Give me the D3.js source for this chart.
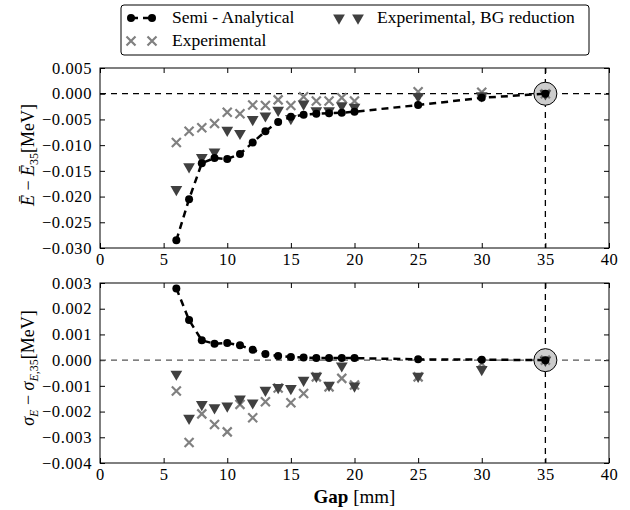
<!DOCTYPE html>
<html><head><meta charset="utf-8">
<script src="https://cdn.jsdelivr.net/npm/d3@7"></script>
<style>body{margin:0;background:#fff}svg{display:block}svg text{font-family:"Liberation Serif",serif}</style>
</head><body><div id="c"></div>
<script>
const gaps = [6,7,8,9,10,11,12,13,14,15,16,17,18,19,20,25,30,35];
// Top panel: mean energy difference [MeV]
const semiE = [-0.0285,-0.0205,-0.0135,-0.0125,-0.0127,-0.0117,-0.0095,-0.0073,-0.0055,-0.0045,-0.0041,-0.0039,-0.0038,-0.0037,-0.0035,-0.0022,-0.0008,0];
const bgE   = [-0.0186,-0.0142,-0.0124,-0.0113,-0.0071,-0.0077,-0.0050,-0.0043,-0.0032,-0.0048,-0.0020,-0.0033,-0.0033,-0.0023,-0.0026,-0.0005,-0.0004,0];
const expE  = [-0.0095,-0.0073,-0.0066,-0.0058,-0.0036,-0.0039,-0.0022,-0.0023,-0.0012,-0.0023,-0.0006,-0.0014,-0.0014,-0.0008,-0.0014,0.0004,0.0003,0];
// Bottom panel: sigma difference [MeV]
const semiS = [0.00279,0.00156,0.00077,0.00064,0.00067,0.00058,0.00040,0.00024,0.00016,0.00012,0.00010,0.00008,0.00008,0.00008,0.00008,0.00003,0.00002,0];
const bgS   = [-0.00054,-0.00226,-0.00172,-0.00185,-0.00178,-0.00151,-0.00166,-0.00117,-0.00106,-0.00110,-0.00078,-0.00062,-0.00097,-0.00022,-0.00100,-0.00062,-0.00036,0];
const expS  = [-0.00120,-0.00320,-0.00209,-0.00250,-0.00279,-0.00172,-0.00224,-0.00162,-0.00108,-0.00166,-0.00130,-0.00065,-0.00104,-0.00071,-0.00097,-0.00065,-0.00013,0];
const xTicks = [0,5,10,15,20,25,30,35,40];
const yTicksTop = [0.005,0.000,-0.005,-0.010,-0.015,-0.020,-0.025,-0.030];
const yTicksBot = [0.003,0.002,0.001,0.000,-0.001,-0.002,-0.003,-0.004];
const refGap = 35;
const legendLabels = ["Semi - Analytical","Experimental, BG reduction","Experimental"];

const W=630,H=510;
const svg=d3.select("#c").append("svg").attr("width",W).attr("height",H);
const L=100,R=609;
const x=d3.scaleLinear().domain([0,40]).range([L,R]);
const fmt=v=>{const s=Math.abs(v).toFixed(3);return (v<-1e-12?"\u2212":"")+s;};

const tri=d3.symbol().type(d3.symbolTriangle).size(60);
function crossPath(s){return `M${-s},${-s}L${s},${s}M${-s},${s}L${s},${-s}`;}

function panel(top,bottom,yTicks,semi,bg,ex,zeroColor,labelY,labelParts){
  const y=d3.scaleLinear().domain([yTicks[yTicks.length-1],yTicks[0]]).range([bottom,top]);
  const g=svg.append("g");
  const clip="clip"+top;
  g.append("clipPath").attr("id",clip).append("rect").attr("x",L).attr("y",top).attr("width",R-L).attr("height",bottom-top);
  const ax=g.append("g");
  ax.append("g").attr("transform",`translate(0,${bottom})`).call(d3.axisBottom(x).tickValues(xTicks).tickSizeInner(-5).tickSizeOuter(0).tickPadding(5).tickFormat(d3.format("d")));
  ax.append("g").attr("transform",`translate(0,${top})`).call(d3.axisTop(x).tickValues(xTicks).tickSizeInner(-5).tickSizeOuter(0).tickFormat(""));
  ax.append("g").attr("transform",`translate(${L},0)`).call(d3.axisLeft(y).tickValues(yTicks).tickSizeInner(-5).tickSizeOuter(0).tickPadding(8).tickFormat(fmt));
  ax.append("g").attr("transform",`translate(${R},0)`).call(d3.axisRight(y).tickValues(yTicks).tickSizeInner(-5).tickSizeOuter(0).tickFormat(""));
  ax.selectAll(".domain").remove();
  ax.selectAll("g").attr("font-family",null).attr("font-size",16.5);
  ax.selectAll("text").attr("fill","#000").attr("letter-spacing",0.6);
  ax.selectAll("line").attr("stroke","#000");
  const pg=g.append("g").attr("clip-path",`url(#${clip})`);
  pg.append("line").attr("x1",L).attr("x2",R).attr("y1",y(0)).attr("y2",y(0)).attr("stroke",zeroColor).attr("stroke-width",1.3).attr("stroke-dasharray","6,5");
  pg.append("line").attr("x1",x(refGap)).attr("x2",x(refGap)).attr("y1",top).attr("y2",bottom).attr("stroke","#000").attr("stroke-width",1.3).attr("stroke-dasharray","6,5");
  pg.append("circle").attr("cx",x(refGap)).attr("cy",y(0)).attr("r",11.5).attr("fill","#cccccc").attr("stroke","#000").attr("stroke-width",1);
  pg.selectAll(".ex").data(gaps.map((g,i)=>[g,ex[i]])).join("path").attr("transform",d=>`translate(${x(d[0])},${y(d[1])})`).attr("d",crossPath(4.5)).attr("stroke","#808080").attr("stroke-width",2.2).attr("fill","none");
  pg.selectAll(".bg").data(gaps.map((g,i)=>[g,bg[i]])).join("path").attr("transform",d=>`translate(${x(d[0])},${y(d[1])}) rotate(180)`).attr("d",tri).attr("fill","#404040");
  const pts=gaps.map((g,i)=>[g,semi[i]]);
  pg.append("path").datum(pts).attr("d",d3.line().x(d=>x(d[0])).y(d=>y(d[1]))).attr("fill","none").attr("stroke","#000").attr("stroke-width",2.5).attr("stroke-dasharray","7,5");
  pg.selectAll(".sa").data(pts).join("circle").attr("cx",d=>x(d[0])).attr("cy",d=>y(d[1])).attr("r",4).attr("fill","#000");
  g.append("rect").attr("x",L).attr("y",top).attr("width",R-L).attr("height",bottom-top).attr("fill","none").attr("stroke","#000").attr("stroke-width",1);
  const t=g.append("text").attr("transform",`translate(34,${labelY}) rotate(-90)`).attr("text-anchor","middle").attr("font-size",18);
  labelParts(t);
}

panel(68,248,yTicksTop,semiE,bgE,expE,"#000",155,t=>{
  t.append("tspan").attr("font-style","italic").text("\u0112");
  t.append("tspan").text(" \u2212 ");
  t.append("tspan").attr("font-style","italic").text("\u0112");
  t.append("tspan").attr("font-size",12).attr("dy",4).text("35");
  t.append("tspan").attr("dy",-4).text("[MeV]");
});
panel(283,463,yTicksBot,semiS,bgS,expS,"#555",368,t=>{
  t.append("tspan").attr("font-style","italic").text("\u03C3");
  t.append("tspan").attr("font-style","italic").attr("font-size",12).attr("dy",4).text("E");
  t.append("tspan").attr("dy",-4).text(" \u2212 ");
  t.append("tspan").attr("font-style","italic").text("\u03C3");
  t.append("tspan").attr("font-style","italic").attr("font-size",12).attr("dy",4).text("E");
  t.append("tspan").attr("font-size",12).text(",35");
  t.append("tspan").attr("dy",-4).text("[MeV]");
});

const xl=svg.append("text").attr("x",(L+R)/2).attr("y",503).attr("text-anchor","middle").attr("font-size",19);
xl.append("tspan").attr("font-weight","bold").text("Gap");
xl.append("tspan").text(" [mm]");

const lg=svg.append("g");
lg.append("rect").attr("x",121).attr("y",5).attr("width",468).attr("height",50).attr("rx",3).attr("fill","#fff").attr("stroke","#000").attr("stroke-width",1);
const r1=18,r2=41;
lg.append("line").attr("x1",131).attr("x2",152).attr("y1",r1).attr("y2",r1).attr("stroke","#000").attr("stroke-width",2.5).attr("stroke-dasharray","7,5");
[131,152].forEach(cx=>lg.append("circle").attr("cx",cx).attr("cy",r1).attr("r",4).attr("fill","#000"));
lg.append("text").attr("x",172).attr("y",r1+5).attr("font-size",17.5).text(legendLabels[0]);
[339,358].forEach(cx=>lg.append("path").attr("transform",`translate(${cx},${r1}) rotate(180)`).attr("d",tri).attr("fill","#404040"));
lg.append("text").attr("x",377).attr("y",r1+5).attr("font-size",17.5).text(legendLabels[1]);
[131,152].forEach(cx=>lg.append("path").attr("transform",`translate(${cx},${r2})`).attr("d",crossPath(4.5)).attr("stroke","#808080").attr("stroke-width",2.2).attr("fill","none"));
lg.append("text").attr("x",172).attr("y",r2+5).attr("font-size",17.5).text(legendLabels[2]);
</script></body></html>
